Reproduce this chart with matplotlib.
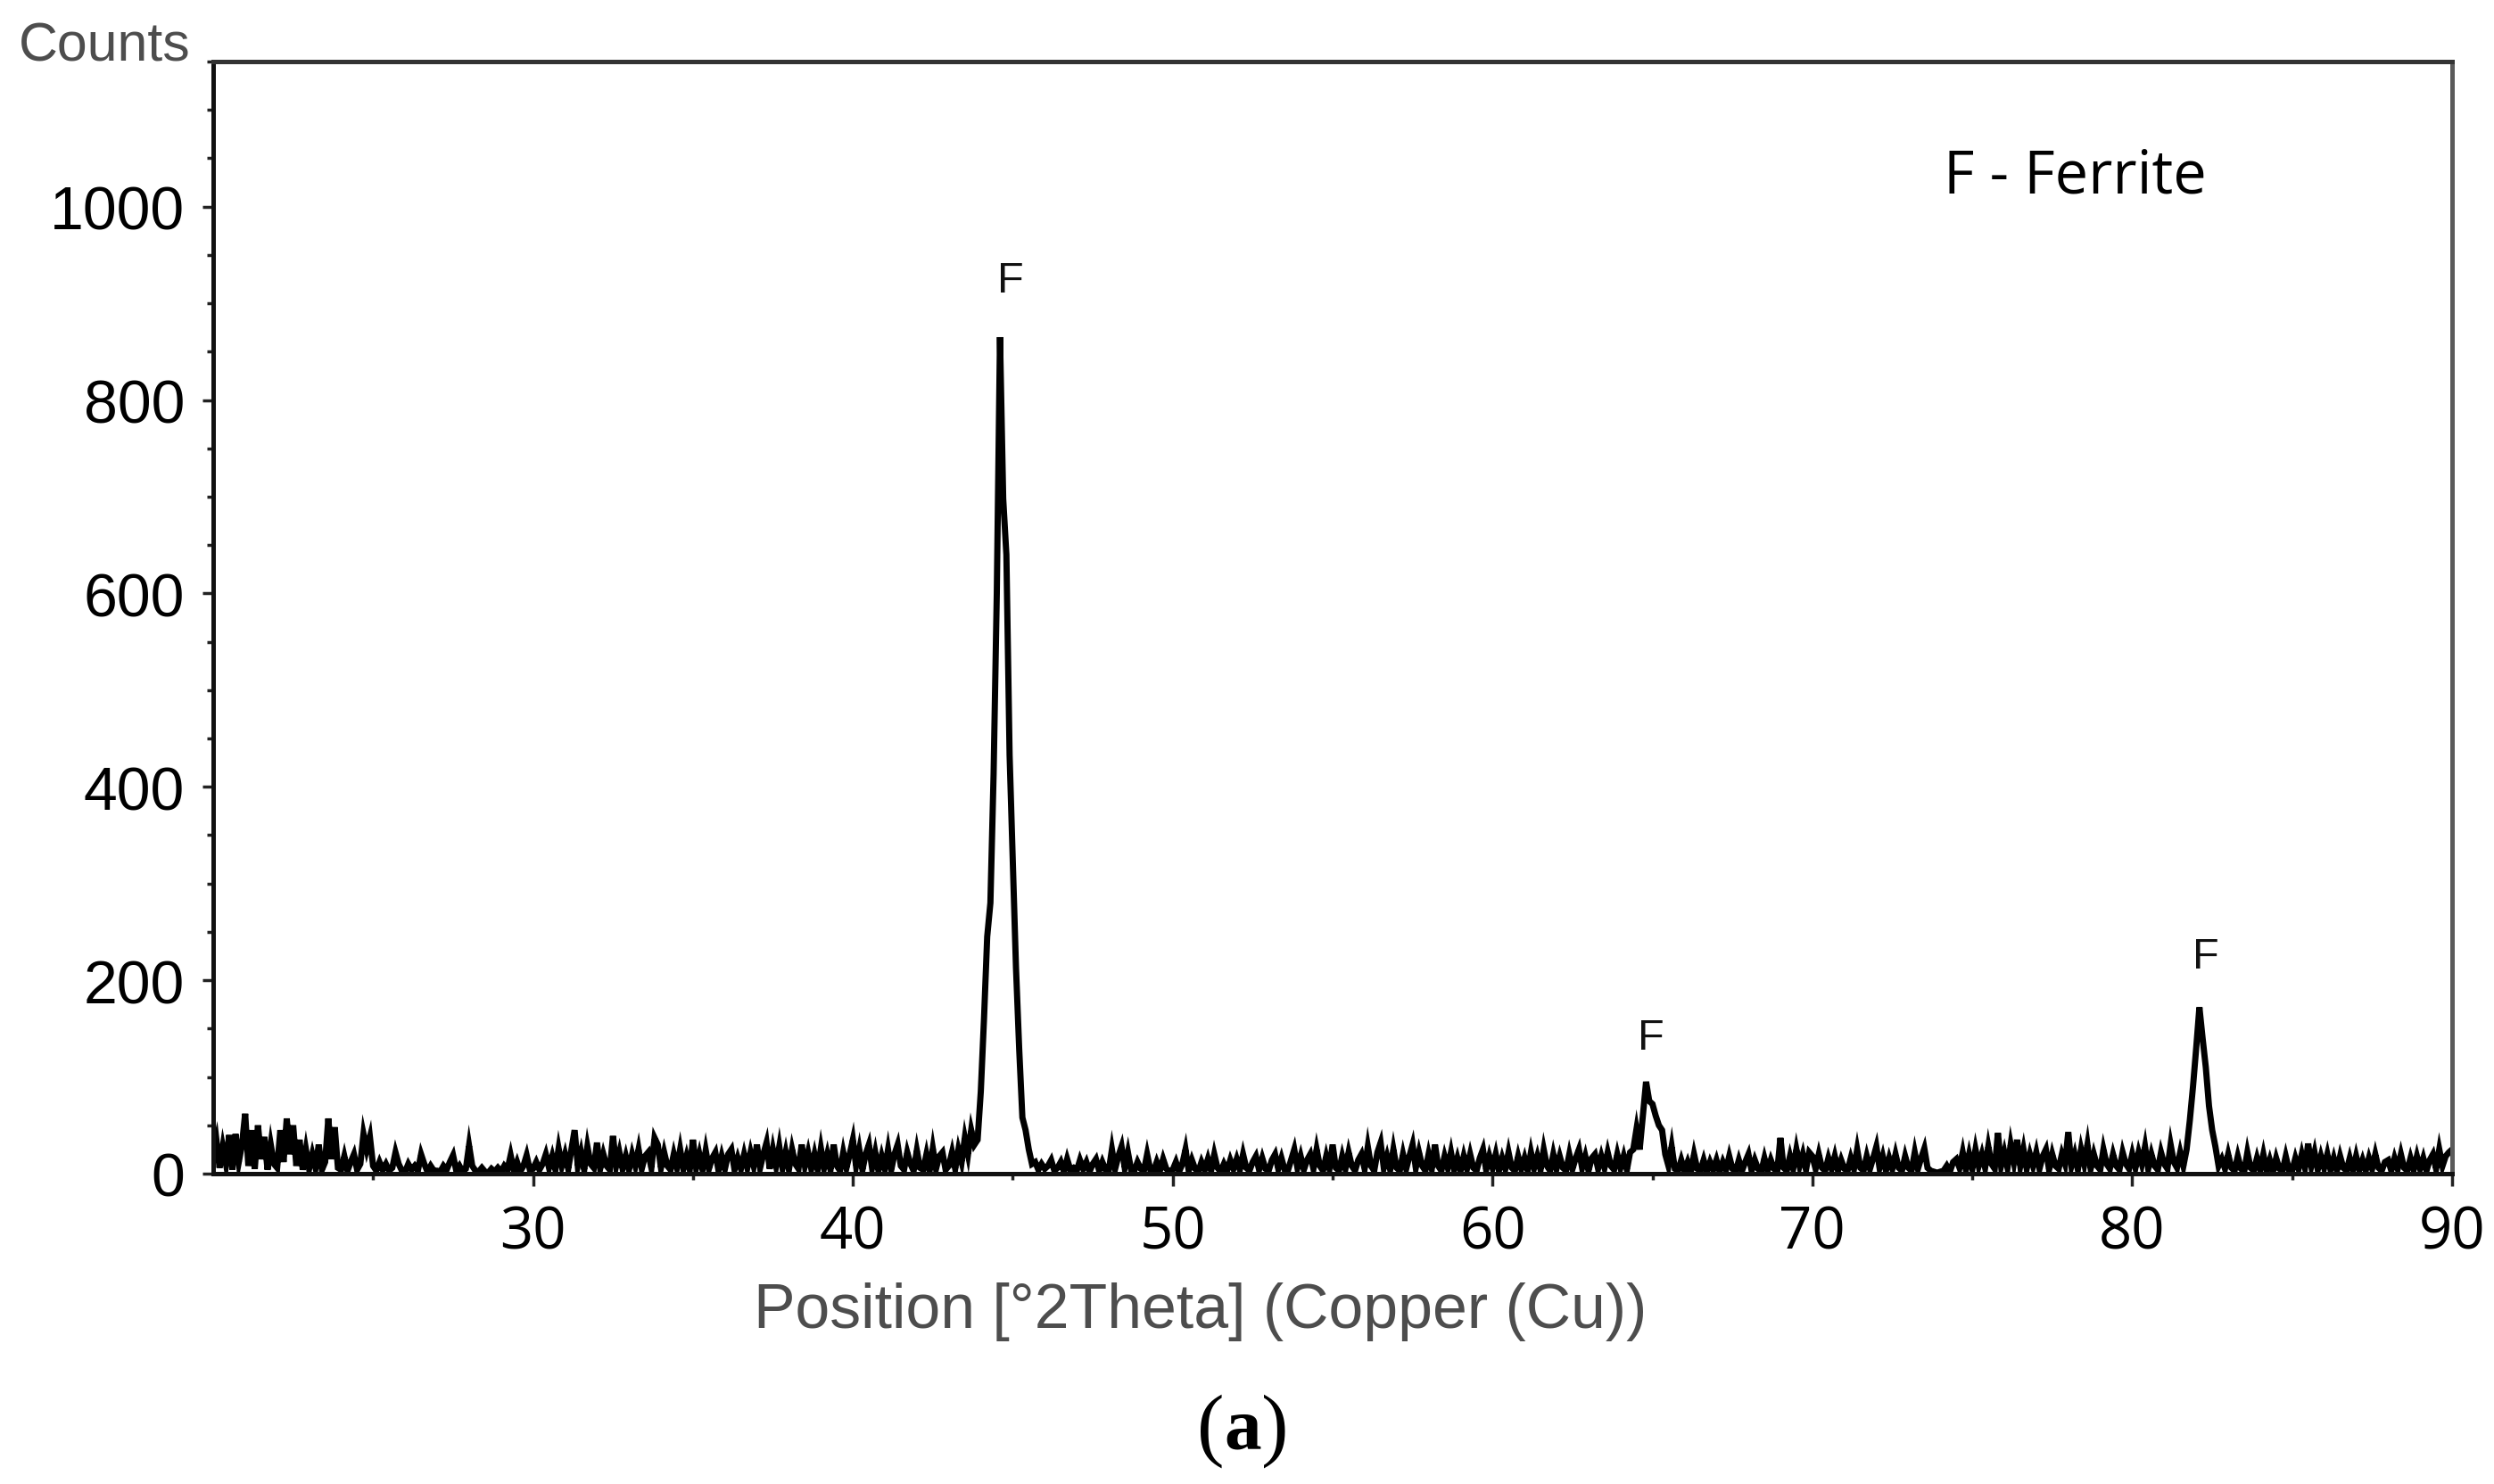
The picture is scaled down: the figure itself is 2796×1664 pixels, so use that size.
import numpy as np
import matplotlib
matplotlib.use("Agg")
import matplotlib.pyplot as plt
from matplotlib import font_manager as fm
from matplotlib.ticker import MultipleLocator, FixedLocator

# ---------------- data ----------------
two_theta_start = 20.0
two_theta_step = 0.1

counts_20s = [20, 35, 6, 28, 10, 40, 4, 41, 12, 30,
              62, 8, 45, 5, 50, 15, 38, 4, 30, 10,
              6, 45, 12, 57, 20, 50, 8, 35, 4, 25,
              5, 20, 6, 30, 4, 12, 57, 15, 48, 6,
              4, 18, 3, 12, 20, 4, 10, 41, 25, 38,
              8, 3, 12, 4, 10, 3, 6, 22, 10, 3,
              2, 10, 4, 8, 3, 20, 10, 2, 8, 3,
              3, 2, 8, 4, 12, 19, 3, 8, 2, 5,
              29, 8, 3, 2, 6, 2, 1, 5, 2, 6,
              2, 8, 4, 19, 3, 12, 2, 8, 19, 4]
counts_30s = [5, 12, 4, 10, 20, 6, 18, 4, 26, 8,
              20, 5, 25, 45, 8, 22, 4, 28, 10, 6,
              32, 5, 20, 8, 4, 39, 8, 22, 5, 18,
              4, 20, 8, 25, 5, 18, 22, 6, 37, 30,
              6, 22, 8, 4, 20, 6, 25, 5, 18, 4,
              35, 6, 20, 4, 24, 5, 16, 22, 3, 18,
              5, 20, 25, 4, 16, 5, 20, 6, 22, 8,
              30, 6, 20, 32, 5, 25, 8, 28, 6, 22,
              4, 25, 10, 5, 30, 8, 22, 5, 20, 4,
              26, 6, 20, 4, 30, 8, 3, 22, 6, 20]
counts_40s = [35, 8, 25, 4, 20, 30, 6, 22, 3, 18,
              5, 25, 4, 20, 30, 8, 4, 22, 10, 3,
              24, 6, 4, 20, 3, 26, 5, 18, 22, 4,
              8, 22, 5, 25, 12, 37, 20, 45, 30, 35,
              85, 160, 245, 280, 413, 600, 865, 698, 640, 433,
              323, 213, 129, 58, 45, 25, 10, 12, 4, 10,
              5, 8, 14, 3, 6, 12, 2, 15, 4, 6,
              3, 14, 5, 12, 2, 10, 15, 3, 12, 4,
              3, 25, 5, 18, 28, 6, 22, 4, 3, 12,
              5, 3, 20, 4, 2, 12, 3, 15, 5, 2]
counts_50s = [4, 12, 2, 10, 25, 3, 14, 5, 2, 12,
              4, 15, 3, 20, 6, 2, 10, 3, 14, 5,
              15, 4, 20, 6, 3, 12, 18, 4, 16, 5,
              3, 14, 20, 5, 16, 4, 3, 14, 25, 6,
              18, 4, 14, 20, 5, 25, 8, 3, 18, 5,
              30, 6, 3, 18, 5, 22, 8, 3, 14, 20,
              5, 28, 8, 3, 22, 32, 6, 18, 4, 25,
              6, 3, 20, 5, 18, 30, 6, 22, 8, 3,
              20, 5, 30, 8, 3, 18, 6, 22, 4, 16,
              3, 18, 5, 20, 6, 3, 16, 25, 4, 18]
counts_60s = [6, 20, 3, 16, 5, 22, 6, 3, 18, 5,
              16, 3, 22, 6, 18, 4, 25, 8, 3, 20,
              5, 18, 6, 3, 20, 5, 16, 25, 6, 18,
              3, 16, 20, 5, 18, 6, 22, 8, 4, 20,
              6, 18, 4, 22, 25, 46, 25, 60, 95, 75,
              72, 60, 50, 45, 20, 8, 28, 5, 3, 14,
              3, 12, 2, 20, 5, 3, 14, 2, 12, 4,
              14, 2, 12, 4, 18, 5, 2, 14, 3, 12,
              20, 3, 14, 5, 2, 16, 3, 14, 5, 2,
              37, 6, 3, 18, 5, 25, 8, 20, 4, 22]
counts_70s = [18, 5, 20, 6, 3, 16, 5, 18, 3, 14,
              5, 3, 16, 5, 25, 6, 3, 18, 5, 16,
              28, 6, 18, 3, 16, 5, 20, 6, 3, 18,
              6, 3, 22, 5, 16, 26, 6, 3, 2, 1,
              2, 3, 8, 2, 12, 15, 6, 22, 4, 20,
              5, 25, 8, 20, 6, 28, 10, 5, 42, 8,
              22, 6, 30, 12, 35, 8, 25, 5, 20, 8,
              22, 5, 18, 25, 4, 20, 8, 5, 20, 10,
              43, 8, 20, 4, 25, 10, 30, 5, 20, 8,
              4, 25, 10, 5, 20, 8, 4, 22, 10, 5]
counts_80s = [20, 6, 22, 10, 28, 5, 20, 8, 4, 22,
              10, 5, 30, 12, 6, 22, 8, 25, 55, 90,
              130, 172, 140, 110, 70, 45, 28, 8, 15, 5,
              20, 6, 3, 18, 5, 2, 22, 6, 3, 16,
              4, 20, 3, 14, 2, 16, 5, 3, 18, 4,
              3, 16, 5, 20, 6, 31, 8, 22, 4, 18,
              6, 20, 4, 16, 3, 18, 6, 3, 16, 3,
              18, 4, 14, 3, 16, 5, 20, 6, 3, 12,
              14, 3, 16, 5, 20, 6, 3, 16, 4, 18,
              5, 16, 3, 14, 20, 5, 25, 8, 18, 22]
counts_end = [25]

peak_label_pos = [44.94, 64.96, 82.29]
peak_label_counts = [924, 141, 225]
peak_labels = ["F", "F", "F"]

x_major_ticks = [30, 40, 50, 60, 70, 80, 90]
x_minor_ticks = [25, 35, 45, 55, 65, 75, 85]
y_major_ticks = [0, 200, 400, 600, 800, 1000]

counts = np.array(counts_20s + counts_30s + counts_40s + counts_50s +
                  counts_60s + counts_70s + counts_80s + counts_end, dtype=float)
two_theta = two_theta_start + two_theta_step * np.arange(len(counts))

# ---------------- fonts ----------------
names = {f.name for f in fm.fontManager.ttflist}
narrow = "Liberation Sans Narrow" if "Liberation Sans Narrow" in names else "Liberation Sans"
narrow_scale = 1.0 if narrow == "Liberation Sans Narrow" else 0.93

W, H = 2796, 1665
fig = plt.figure(figsize=(W / 100, H / 100), dpi=100)
L, R, T, B = 239, 2749, 70, 1317
ax = fig.add_axes([L / W, 1 - B / H, (R - L) / W, (B - T) / H])

ax.plot(two_theta, counts, color="black", lw=5.0, solid_joinstyle="miter")

ax.set_xlim(20, 90)
ax.set_ylim(0, 1150)

for side, col in [("left", "#111111"), ("bottom", "#111111"), ("top", "#333333"), ("right", "#5a5a5a")]:
    ax.spines[side].set_linewidth(3.6)
    ax.spines[side].set_color(col)

ax.xaxis.set_major_locator(FixedLocator(x_major_ticks))
ax.xaxis.set_minor_locator(FixedLocator(x_minor_ticks))
ax.yaxis.set_major_locator(FixedLocator(y_major_ticks))
ax.yaxis.set_minor_locator(MultipleLocator(50))

ax.tick_params(axis="y", which="major", direction="out", length=9, width=2.5,
               color="#222222", pad=14, labelsize=49, labelcolor="black")
ax.tick_params(axis="y", which="minor", direction="out", length=5, width=2.5, color="#222222")
ax.tick_params(axis="x", which="major", direction="out", length=10, width=2.5,
               color="#222222", pad=14, labelsize=47, labelcolor="black")
ax.tick_params(axis="x", which="minor", direction="out", length=5, width=2.5, color="#222222")
for lab in ax.get_yticklabels():
    lab.set_family("Liberation Sans")
for lab in ax.get_xticklabels():
    lab.set_family("Open Sans")

# peak labels
for xp, yp, t in zip(peak_label_pos, peak_label_counts, peak_labels):
    ax.text(xp, yp, t, ha="center", va="center", fontsize=35,
            family="Liberation Sans", color="#111111")

ax.text(78.2, 1031, "F - Ferrite", ha="center", va="center", fontsize=48,
        family="Open Sans", color="black")

# axis titles
fig.text(21 / W, 1 - 53 / H, "Counts", ha="left", va="center",
         fontsize=47 * narrow_scale, family=narrow, color="#4d4d4d")
fig.text(1346 / W, 1 - 1471 / H, "Position [°2Theta] (Copper (Cu))", ha="center", va="center",
         fontsize=54 * narrow_scale, family=narrow, color="#4d4d4d")

# panel label (a) with bold a
fig.text(1393 / W, 1 - 1605 / H, "a", ha="center", va="center", fontsize=60,
         family="Liberation Serif", weight="bold", color="black")
fig.text(1372 / W, 1 - 1605 / H, "(", ha="right", va="center", fontsize=66,
         family="Liberation Serif", color="black")
fig.text(1414 / W, 1 - 1605 / H, ")", ha="left", va="center", fontsize=66,
         family="Liberation Serif", color="black")

fig.savefig("out.png", dpi=100, facecolor="white")
